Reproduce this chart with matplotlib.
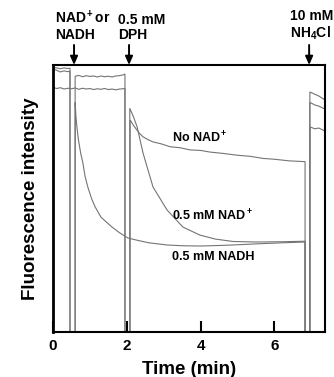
import matplotlib
matplotlib.use('Agg')
import matplotlib.pyplot as plt
from matplotlib.transforms import blended_transform_factory

plt.rcParams['font.family'] = ['Liberation Sans', 'DejaVu Sans']
plt.rcParams['font.weight'] = 'bold'
plt.rcParams['mathtext.fontset'] = 'custom'
plt.rcParams['mathtext.rm'] = 'Liberation Sans:bold'
plt.rcParams['mathtext.bf'] = 'Liberation Sans:bold'
plt.rcParams['mathtext.it'] = 'Liberation Sans:bold'

# ---- data (time in min, fluorescence in arbitrary units 0-100) ----
time_no_nad = [0, 0.1, 0.2, 0.3, 0.4, 0.5, 0.6, 0.7, 0.8, 0.9, 1.0, 1.1, 1.2, 1.3,
               1.4, 1.5, 1.6, 1.7, 1.8, 1.9, 1.95, 1.95, 2.09, 2.09, 2.18, 2.27,
               2.35, 2.44, 2.58, 2.71, 2.95, 3.17, 3.45, 3.71, 4.0, 4.25, 4.6,
               5.0, 5.34, 5.7, 6.0, 6.4, 6.83, 6.83, 6.96, 6.96, 7.1, 7.2, 7.37]
signal_no_nad = [91.6, 91.2, 91.5, 91.0, 91.3, 91.1, 91.4, 90.9, 91.3, 91.0, 91.2,
                 90.8, 91.1, 90.9, 91.2, 90.8, 91.0, 90.7, 91.0, 91.1, 91.3, 0, 0,
                 79.4, 77.4, 75.7, 74.3, 73.1, 72.0, 71.2, 70.4, 69.4, 69.0, 68.2,
                 68.0, 67.4, 66.9, 66.2, 65.8, 65.0, 64.7, 64.1, 63.8, 0, 0, 76.8,
                 76.1, 76.4, 75.3]

time_nad = [0, 0.1, 0.2, 0.3, 0.4, 0.46, 0.46, 0.6, 0.6, 0.7, 0.8, 0.9, 1.0, 1.1,
            1.2, 1.3, 1.4, 1.5, 1.6, 1.7, 1.8, 1.9, 1.95, 1.95, 2.08, 2.08, 2.18,
            2.28, 2.44, 2.71, 3.09, 3.52, 3.98, 4.4, 4.88, 5.5, 6.2, 6.83, 6.83,
            6.96, 6.96, 7.1, 7.2, 7.37]
signal_nad = [98.6, 98.0, 97.4, 97.8, 97.5, 97.7, 0, 0, 95.8, 96.1, 95.6, 96.0,
              95.7, 95.9, 95.5, 95.9, 95.6, 95.8, 95.5, 95.9, 96.0, 96.3, 96.6, 0,
              0, 83.8, 80.6, 76.8, 67.0, 54.3, 45.7, 39.3, 36.3, 34.8, 33.9, 33.7,
              33.8, 34.0, 0, 0, 89.9, 89.0, 88.4, 86.9]

time_nadh = [0, 0.1, 0.2, 0.3, 0.4, 0.46, 0.46, 0.6, 0.6, 0.62, 0.65, 0.69, 0.75,
             0.81, 0.87, 0.95, 1.05, 1.14, 1.3, 1.46, 1.59, 1.8, 2.03, 2.3, 2.6,
             3.09, 3.5, 4.0, 4.5, 4.88, 5.5, 6.2, 6.83, 6.83, 6.96, 6.96, 7.1,
             7.2, 7.37]
signal_nadh = [99.2, 98.9, 98.6, 98.9, 98.7, 98.8, 0, 0, 86.0, 81.0, 76.5, 71.9,
               67.0, 63.3, 58.2, 54.0, 49.8, 46.9, 43.0, 41.0, 39.4, 37.2, 35.2,
               34.3, 33.4, 32.6, 32.3, 32.2, 32.4, 32.6, 33.0, 33.4, 33.7, 0, 0,
               86.0, 85.0, 84.6, 83.5]

x_ticks = [0, 2, 4, 6]
x_tick_labels = ['0', '2', '4', '6']

addition_times = [0.57, 2.06, 6.94]
addition_text_x = [0.05, 1.76, 6.42]
addition_labels = ["NAD$^+$or\nNADH", "0.5 mM\nDPH", "10 mM\nNH$_4$Cl"]

trace_labels = ["No NAD$^+$", "0.5 mM NAD$^+$", "0.5 mM NADH"]
trace_label_x = [3.22, 3.22, 3.22]
trace_label_y = [72.5, 43.3, 28.0]

# ---- figure ----
fig = plt.figure(figsize=(3.34, 3.77), dpi=100)
ax = fig.add_axes([53 / 334, 45 / 377, 272 / 334, 267 / 377])

trace_color = '#747474'
for t, s in [(time_no_nad, signal_no_nad), (time_nad, signal_nad),
             (time_nadh, signal_nadh)]:
    ax.plot(t, s, color=trace_color, lw=0.8, solid_joinstyle='miter')

ax.set_xlim(0, 7.37)
ax.set_ylim(0, 100)
ax.set_yticks([])
ax.set_xticks(x_ticks)
ax.set_xticklabels(x_tick_labels, fontsize=11, fontweight='bold')
ax.tick_params(axis='x', direction='in', length=8, width=1.5, pad=5)

for side in ['top', 'right', 'bottom']:
    ax.spines[side].set_linewidth(1.5)
ax.spines['left'].set_linewidth(2.0)

ax.set_xlabel('Time (min)', fontsize=13.5, fontweight='bold', labelpad=6)
ax.set_ylabel('Fluorescence intensity', fontsize=13.5, fontweight='bold',
              labelpad=10)

for lab, x, y in zip(trace_labels, trace_label_x, trace_label_y):
    ax.text(x, y, lab, fontsize=9, fontweight='bold', ha='left', va='center')

trans = blended_transform_factory(ax.transData, ax.transAxes)
for t, tx, lab in zip(addition_times, addition_text_x, addition_labels):
    ax.annotate('', xy=(t, 1.0), xycoords=trans, xytext=(t, 1.075),
                textcoords=trans,
                arrowprops=dict(arrowstyle='-|>,head_length=0.5,head_width=0.22',
                                color='black', lw=1.4, shrinkA=0, shrinkB=0),
                annotation_clip=False)
    ax.text(tx, 1.085, lab, transform=trans, fontsize=10, fontweight='bold',
            ha='left', va='bottom', linespacing=1.15)

fig.savefig('out.png', dpi=100)
